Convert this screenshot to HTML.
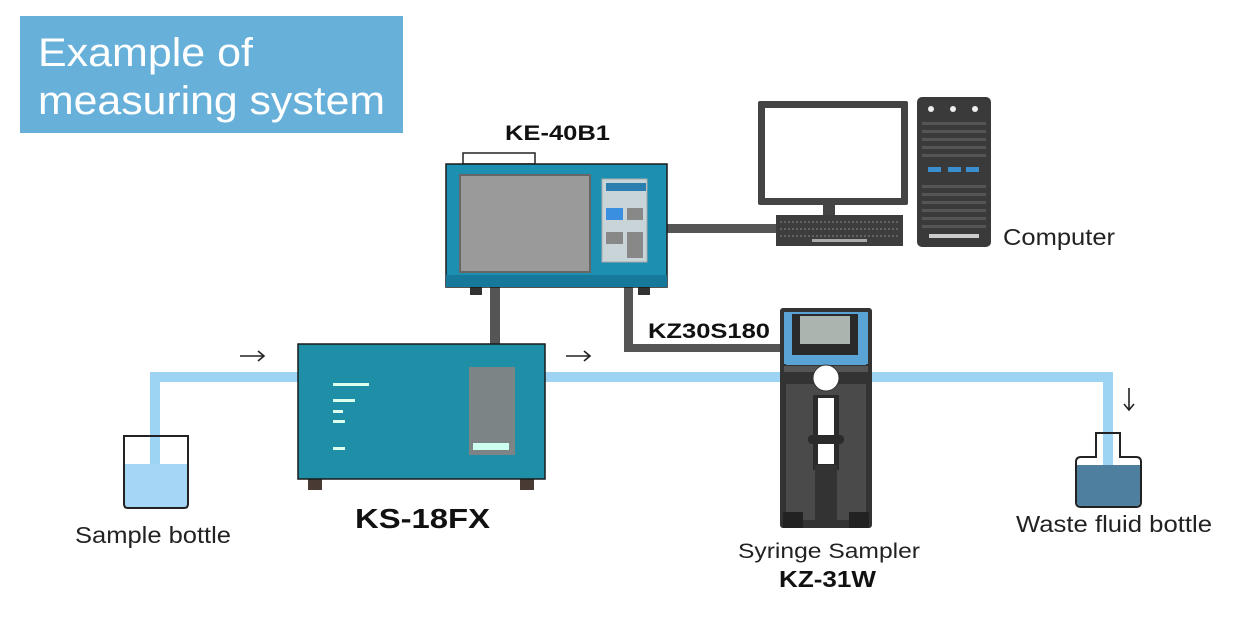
<!DOCTYPE html>
<html><head><meta charset="utf-8"><style>
html,body{margin:0;padding:0;background:#fff;}
svg{display:block;}
text{font-family:"Liberation Sans",sans-serif;}
</style></head><body>
<svg width="1250" height="622" viewBox="0 0 1250 622" xmlns="http://www.w3.org/2000/svg">
<rect width="1250" height="622" fill="#fff"/>
<!-- title -->
<rect x="20" y="16" width="383" height="117" fill="#67b0da"/>
<text x="38" y="66" font-size="40" fill="#fff" textLength="215" lengthAdjust="spacingAndGlyphs">Example of</text>
<text x="38" y="114" font-size="40" fill="#fff" textLength="347" lengthAdjust="spacingAndGlyphs">measuring system</text>

<!-- tubes -->
<g fill="#9dd3f3">
<rect x="150" y="372" width="10" height="92"/>
<rect x="150" y="372" width="150" height="10"/>
<rect x="545" y="372" width="568" height="10"/>
<rect x="1103" y="372" width="10" height="92"/>
</g>
<g stroke="#222" stroke-width="1.6" fill="none">
<line x1="240" y1="356" x2="264" y2="356"/><polyline points="258,351 264,356 258,361"/>
<line x1="566" y1="356" x2="590" y2="356"/><polyline points="584,351 590,356 584,361"/>
<line x1="1129" y1="388" x2="1129" y2="410"/><polyline points="1124,404 1129,410 1134,404"/>
</g>

<!-- cables -->
<rect x="490" y="287" width="10" height="60" fill="#555"/>
<rect x="624" y="287" width="9" height="64" fill="#555"/>
<rect x="624" y="344" width="160" height="8" fill="#555"/>
<rect x="667" y="224" width="112" height="9" fill="#555"/>

<!-- KE-40B1 -->
<text x="505" y="140" font-size="21" font-weight="bold" fill="#111" textLength="105" lengthAdjust="spacingAndGlyphs">KE-40B1</text>
<rect x="463" y="153" width="72" height="11" fill="#fff" stroke="#222" stroke-width="1.5"/>
<rect x="470" y="286" width="12" height="9" fill="#333"/>
<rect x="638" y="286" width="12" height="9" fill="#333"/>
<rect x="446" y="164" width="221" height="123" fill="#1d8fb1" stroke="#1a1a1a" stroke-width="1.5"/>
<rect x="446" y="275" width="221" height="12" fill="#16789a"/>
<rect x="460" y="175" width="130" height="97" fill="#9a9a9a" stroke="#666" stroke-width="2"/>
<rect x="602" y="179" width="45" height="83" fill="#c9d4d8" stroke="#aaa"/>
<rect x="606" y="208" width="17" height="12" fill="#3b8fe0"/>
<rect x="627" y="208" width="16" height="12" fill="#888"/>
<rect x="606" y="232" width="17" height="12" fill="#888"/>
<rect x="627" y="232" width="16" height="26" fill="#888"/>
<rect x="606" y="183" width="40" height="8" fill="#2a7fb0"/>

<!-- computer -->
<rect x="758" y="101" width="150" height="104" fill="#444" rx="2"/>
<rect x="765" y="108" width="136" height="90" fill="#fff"/>
<rect x="823" y="205" width="12" height="10" fill="#444"/>
<rect x="776" y="215" width="127" height="31" fill="#3d3d3d"/>
<g stroke="#888" stroke-width="1" stroke-dasharray="2,2">
<line x1="780" y1="222" x2="900" y2="222"/><line x1="780" y1="229" x2="900" y2="229"/><line x1="780" y1="236" x2="900" y2="236"/>
</g>
<rect x="812" y="239" width="55" height="3" fill="#aaa"/>
<rect x="917" y="97" width="74" height="150" rx="5" fill="#3a3a3a"/>
<g fill="#555"><rect x="922" y="122" width="64" height="3"/><rect x="922" y="130" width="64" height="3"/><rect x="922" y="138" width="64" height="3"/><rect x="922" y="146" width="64" height="3"/><rect x="922" y="154" width="64" height="3"/>
<rect x="922" y="185" width="64" height="3"/><rect x="922" y="193" width="64" height="3"/><rect x="922" y="201" width="64" height="3"/><rect x="922" y="209" width="64" height="3"/><rect x="922" y="217" width="64" height="3"/><rect x="922" y="225" width="64" height="3"/></g>
<circle cx="931" cy="109" r="3" fill="#eee"/><circle cx="953" cy="109" r="3" fill="#eee"/><circle cx="975" cy="109" r="3" fill="#eee"/>
<rect x="928" y="167" width="13" height="5" fill="#3a8fd0"/><rect x="948" y="167" width="13" height="5" fill="#3a8fd0"/><rect x="966" y="167" width="13" height="5" fill="#3a8fd0"/>
<rect x="929" y="234" width="50" height="4" fill="#ccc"/>
<text x="1003" y="245" font-size="23" fill="#222" textLength="112" lengthAdjust="spacingAndGlyphs">Computer</text>

<!-- KS-18FX -->
<rect x="308" y="476" width="14" height="14" fill="#4a3a34"/>
<rect x="520" y="476" width="14" height="14" fill="#4a3a34"/>
<rect x="298" y="344" width="247" height="135" fill="#1f8fa8" stroke="#1a1a1a" stroke-width="1.5"/>
<rect x="469" y="367" width="46" height="88" fill="#7c8486"/>
<g fill="#dfe"><rect x="333" y="383" width="36" height="3"/><rect x="333" y="399" width="22" height="3"/><rect x="333" y="410" width="10" height="3"/><rect x="333" y="420" width="12" height="3"/><rect x="333" y="447" width="12" height="3"/></g>
<rect x="473" y="443" width="36" height="7" fill="#cfe"/>
<text x="355" y="528" font-size="28" font-weight="bold" fill="#111" textLength="135" lengthAdjust="spacingAndGlyphs">KS-18FX</text>

<!-- sample bottle -->
<rect x="124" y="464" width="64" height="44" fill="#a6d6f5"/>
<rect x="150" y="436" width="10" height="28" fill="#9dd3f3"/>
<path d="M124 436 V504 q0 4 4 4 H184 q4 0 4 -4 V436 Z" fill="none" stroke="#222" stroke-width="2"/>
<text x="75" y="543" font-size="23" fill="#222" textLength="156" lengthAdjust="spacingAndGlyphs">Sample bottle</text>

<!-- waste bottle -->
<path d="M1096 433 H1120 V457 H1136 q5 0 5 5 V502 q0 5 -5 5 H1081 q-5 0 -5 -5 V462 q0 -5 5 -5 H1096 Z" fill="#fff" stroke="#222" stroke-width="2"/>
<path d="M1077 465 H1140 V502 q0 4 -4 4 H1081 q-4 0 -4 -4 Z" fill="#4f7f9f"/>
<rect x="1103" y="434" width="10" height="31" fill="#9dd3f3"/>
<text x="1016" y="532" font-size="23" fill="#222" textLength="196" lengthAdjust="spacingAndGlyphs">Waste fluid bottle</text>

<!-- syringe sampler -->
<rect x="780" y="308" width="92" height="220" rx="3" fill="#333"/>
<rect x="784" y="312" width="84" height="52" fill="#5aa3d5"/>
<rect x="792" y="314" width="66" height="45" fill="#2a2a2a"/>
<rect x="800" y="316" width="50" height="28" fill="#a9b5ae"/>
<rect x="786" y="355" width="80" height="10" fill="#5aa3d5"/>
<rect x="784" y="366" width="84" height="6" fill="#555"/>
<rect x="786" y="384" width="80" height="136" fill="#4a4a4a"/>
<rect x="813" y="395" width="26" height="75" fill="#2b2b2b"/>
<rect x="818" y="398" width="16" height="66" fill="#fff"/>
<rect x="808" y="435" width="36" height="9" rx="4" fill="#2b2b2b"/>
<rect x="815" y="465" width="22" height="55" fill="#333"/>
<rect x="783" y="512" width="20" height="16" fill="#222"/>
<rect x="849" y="512" width="20" height="16" fill="#222"/>
<circle cx="826" cy="378" r="13" fill="#fff" stroke="#333" stroke-width="1"/>
<text x="738" y="558" font-size="21" fill="#222" textLength="182" lengthAdjust="spacingAndGlyphs">Syringe Sampler</text>
<text x="779" y="587" font-size="23" font-weight="bold" fill="#111" textLength="97" lengthAdjust="spacingAndGlyphs">KZ-31W</text>
<text x="648" y="338" font-size="21" font-weight="bold" fill="#111" textLength="122" lengthAdjust="spacingAndGlyphs">KZ30S180</text>
</svg>
</body></html>
